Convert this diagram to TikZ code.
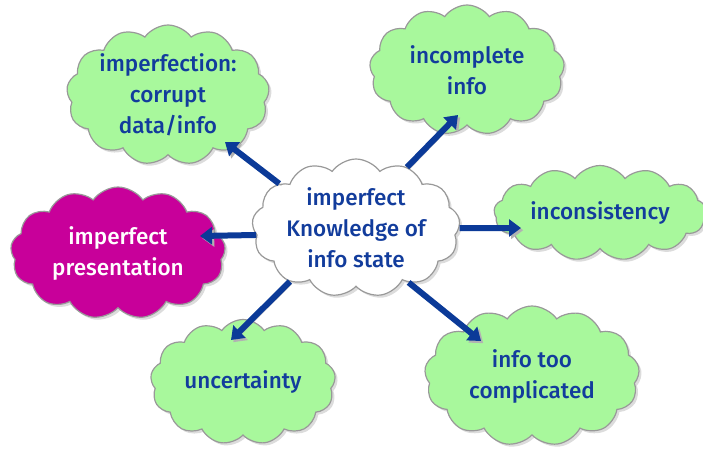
\documentclass[tikz,border=0pt]{standalone}
\usepackage{fontspec}
\setmainfont{Fira Sans}[UprightFont={* Medium}]
\usetikzlibrary{shapes.symbols,shadows,arrows.meta}
\definecolor{cgreen}{HTML}{A8F89C}
\definecolor{cmag}{HTML}{C8009A}
\definecolor{tblue}{HTML}{123C9C}
\definecolor{ablue}{HTML}{0B3A98}
\tikzset{
  cl/.style={cloud, cloud puffs=13, cloud puff arc=110, cloud ignores aspect, draw=gray!80, line width=1.2pt,
    fill=cgreen, drop shadow={shadow xshift=2.5pt, shadow yshift=-2.5pt, fill=gray!55}, inner sep=0pt,
    align=center, text=tblue, font=\fontsize{22.5}{31}\selectfont},
  arr/.style={draw=ablue, line width=6pt, -{Triangle[length=12pt,width=17pt]},
    preaction={draw=gray!60, transform canvas={shift={(2.2pt,-2.2pt)}}}},
}
\begin{document}
\begin{tikzpicture}[x=1pt,y=-1pt]
\useasboundingbox (0,0) rectangle (703,450);
\node[cl, fill=white, minimum width=208pt, minimum height=138pt] (c) at (356,228) {imperfect\\Knowledge of\\info state};
\node[cl, minimum width=195pt, minimum height=140pt] (tl) at (168,95) {imperfection:\\corrupt\\data/info};
\node[cl, minimum width=195pt, minimum height=130pt] (tr) at (467,70) {incomplete\\info};
\node[cl, minimum width=212pt, minimum height=95pt] (r) at (600,213) {inconsistency};
\node[cl, fill=cmag, text=white, minimum width=215pt, minimum height=132pt] (l) at (118,253) {imperfect\\presentation};
\node[cl, minimum width=185pt, minimum height=125pt] (bl) at (243,382) {uncertainty};
\node[cl, minimum width=215pt, minimum height=140pt] (br) at (532,376) {info too\\complicated};
\coordinate (tlT) at (225,142);
\coordinate (trT) at (458,115);
\coordinate (rT) at (521,228);
\coordinate (lT) at (200,236);
\coordinate (blT) at (231,340);
\coordinate (brT) at (481,341);
\draw[arr] (c.150) -- (tlT);
\draw[arr] (c.50) -- (trT);
\draw[arr] (c.0) -- (rT);
\draw[arr] (c.184) -- (lT);
\draw[arr] (c.219) -- (blT);
\draw[arr] (c.314) -- (brT);
\end{tikzpicture}
\end{document}
